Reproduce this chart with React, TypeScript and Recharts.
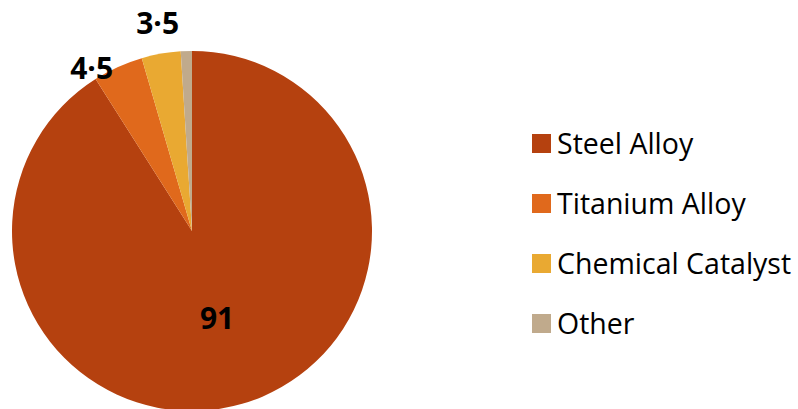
import { PieChart, Pie, Cell, Legend } from 'recharts';

const materials = ['Steel Alloy', 'Titanium Alloy', 'Chemical Catalyst', 'Other'];
const shares = [91, 4.5, 3.5, 1];
const shownLabels = ['91', '4·5', '3·5', ''];
const colors = ['#B5410F', '#E0691C', '#E9A932', '#C0AA8C'];

const data = materials.map((name, i) => ({ name, value: shares[i], label: shownLabels[i] }));

const RAD = Math.PI / 180;

function renderLabel(props: any) {
  const { cx, cy, midAngle, outerRadius, index } = props;
  const text = data[index].label;
  if (!text) return null;
  const cos = Math.cos(-midAngle * RAD);
  const sin = Math.sin(-midAngle * RAD);
  const style = { fontFamily: 'Open Sans, sans-serif', fontWeight: 700, fontSize: 30, fill: '#000' };
  if (index === 0) {
    const r = outerRadius * 0.5;
    return (
      <text x={cx + r * cos} y={cy + r * sin} textAnchor="middle" dominantBaseline="central" style={style}>
        {text}
      </text>
    );
  }
  if (cos < -0.3) {
    const r = outerRadius + 2;
    return (
      <text x={cx + r * cos - 4} y={cy + r * sin + 2} textAnchor="end" dominantBaseline="central" style={style}>
        {text}
      </text>
    );
  }
  const r = outerRadius + 20;
  return (
    <text x={cx + r * cos} y={cy + r * sin} textAnchor="middle" style={style}>
      {text}
    </text>
  );
}

function LegendContent() {
  return (
    <div style={{ fontFamily: 'Open Sans, sans-serif', fontSize: 28.5, color: '#000', lineHeight: 1 }}>
      {data.map((d, i) => (
        <div key={d.name} style={{ display: 'flex', alignItems: 'center', height: 60 }}>
          <span style={{ width: 19, height: 19, background: colors[i], marginRight: 6, display: 'inline-block', flex: 'none' }} />
          <span style={{ whiteSpace: 'nowrap' }}>{d.name}</span>
        </div>
      ))}
    </div>
  );
}

export default function App() {
  return (
    <div style={{ position: 'absolute', left: 0, top: 0, width: 798, height: 409, background: '#fff' }}>
      <PieChart width={798} height={409}>
        <Pie
          data={data}
          dataKey="value"
          nameKey="name"
          cx={187}
          cy={226}
          outerRadius={180}
          startAngle={90}
          endAngle={-270}
          stroke="none"
          label={renderLabel}
          labelLine={false}
          isAnimationActive={false}
        >
          {data.map((d, i) => (
            <Cell key={d.name} fill={colors[i]} stroke="none" />
          ))}
        </Pie>
        <Legend content={LegendContent} wrapperStyle={{ left: 532, top: 113, width: 266 }} />
      </PieChart>
    </div>
  );
}
